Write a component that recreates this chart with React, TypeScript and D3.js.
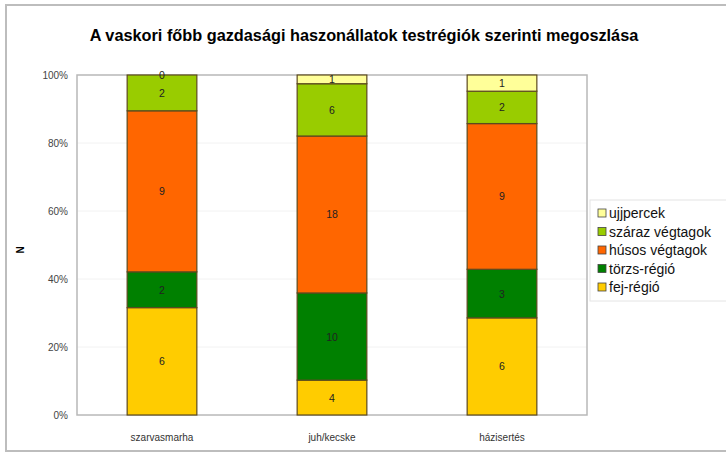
import React, { useEffect, useRef } from 'react';
import * as d3 from 'd3';

const categories = ['szarvasmarha', 'juh/kecske', 'házisertés'];
const seriesNames = ['fej-régió', 'törzs-régió', 'húsos végtagok', 'száraz végtagok', 'ujjpercek'];
const fejRegio = [6, 4, 6];
const torzsRegio = [2, 10, 3];
const husosVegtagok = [9, 18, 9];
const szarazVegtagok = [2, 6, 2];
const ujjpercek = [0, 1, 1];
const yTicks = [0, 0.2, 0.4, 0.6, 0.8, 1];
const colors = ['#FFCC00', '#008000', '#FF6600', '#99CC00', '#FFFF99'];

const App = () => {
    const ref = useRef<SVGSVGElement>(null);

    useEffect(() => {
        const svg = d3.select(ref.current);
        svg.selectAll('*').remove();

        const seriesValues = [fejRegio, torzsRegio, husosVegtagok, szarazVegtagok, ujjpercek];
        const rows = categories.map((c, i) => {
            const row: any = { cat: c };
            seriesNames.forEach((s, j) => { row[s] = seriesValues[j][i]; });
            return row;
        });
        const stacked = d3.stack().keys(seriesNames).offset(d3.stackOffsetExpand)(rows);

        const left = 77, right = 587, top = 75, bottom = 415;

        // outer frame
        svg.append('rect')
            .attr('x', 6).attr('y', 5).attr('width', 730).attr('height', 446)
            .attr('fill', '#fff').attr('stroke', '#bdbdbd').attr('stroke-width', 2);

        svg.append('text')
            .attr('x', 364).attr('y', 41)
            .attr('text-anchor', 'middle')
            .style('font-family', 'Liberation Sans, Arial, sans-serif')
            .style('font-size', '16.3px').style('font-weight', 'bold')
            .text('A vaskori főbb gazdasági haszonállatok testrégiók szerinti megoszlása');

        const x = d3.scaleBand().domain(categories).range([left, right]).paddingInner(0.59).paddingOuter(0.295);
        const y = d3.scaleLinear().domain([0, 1]).range([bottom, top]);

        // gridlines
        svg.append('g').selectAll('line').data(yTicks.slice(1, -1)).enter().append('line')
            .attr('x1', left).attr('x2', right)
            .attr('y1', d => y(d)).attr('y2', d => y(d))
            .attr('stroke', '#f2f2f2');

        // plot border
        svg.append('rect')
            .attr('x', left).attr('y', top).attr('width', right - left).attr('height', bottom - top)
            .attr('fill', 'none').attr('stroke', '#b8b8b8').attr('stroke-width', 1.5);

        const yAxis = svg.append('g')
            .attr('transform', `translate(${left},0)`)
            .call(d3.axisLeft(y).tickValues(yTicks).tickFormat(d3.format('.0%')).tickSize(0).tickPadding(9));
        yAxis.select('.domain').remove();
        yAxis.selectAll('text')
            .style('font-family', 'Liberation Sans, Arial, sans-serif')
            .style('font-size', '10px').attr('fill', '#444');

        const xAxis = svg.append('g')
            .attr('transform', `translate(0,${bottom})`)
            .call(d3.axisBottom(x).tickSize(0).tickPadding(19));
        xAxis.select('.domain').remove();
        xAxis.selectAll('text')
            .style('font-family', 'Liberation Sans, Arial, sans-serif')
            .style('font-size', '10px').attr('fill', '#333');

        svg.append('text')
            .attr('transform', 'translate(24,250) rotate(-90)')
            .attr('text-anchor', 'middle')
            .style('font-family', 'Liberation Sans, Arial, sans-serif')
            .style('font-size', '10px').style('font-weight', 'bold')
            .text('N');

        const layers = svg.append('g').selectAll('g').data(stacked).enter().append('g')
            .attr('fill', (d, i) => colors[i]);

        layers.selectAll('rect').data(d => d).enter().append('rect')
            .attr('x', (d: any) => x(d.data.cat)!)
            .attr('width', x.bandwidth())
            .attr('y', d => y(d[1]))
            .attr('height', d => y(d[0]) - y(d[1]))
            .attr('stroke', '#5c4a1e').attr('stroke-width', 1.2);

        layers.each(function (s: any) {
            d3.select(this).selectAll('text.lbl').data(s).enter().append('text')
                .attr('class', 'lbl')
                .attr('x', (d: any) => x(d.data.cat)! + x.bandwidth() / 2)
                .attr('y', (d: any) => (y(d[0]) + y(d[1])) / 2 + 4)
                .attr('text-anchor', 'middle')
                .attr('fill', '#222')
                .style('font-family', 'Liberation Sans, Arial, sans-serif')
                .style('font-size', '10.5px')
                .text((d: any) => d.data[s.key]);
        });

        // legend
        const lg = svg.append('g');
        lg.append('rect')
            .attr('x', 590).attr('y', 200).attr('width', 140).attr('height', 101)
            .attr('fill', '#fff').attr('stroke', '#e4e4e4');
        const items = seriesNames.map((s, i) => ({ s, c: colors[i] })).reverse();
        const li = lg.selectAll('g.it').data(items).enter().append('g')
            .attr('transform', (d, i) => `translate(598,${213 + i * 18.5})`);
        li.append('rect')
            .attr('x', 0).attr('y', -4).attr('width', 8).attr('height', 8)
            .attr('fill', d => d.c).attr('stroke', '#444').attr('stroke-width', 0.8);
        li.append('text')
            .attr('x', 11).attr('y', 5)
            .style('font-family', 'Liberation Sans, Arial, sans-serif')
            .style('font-size', '14px').attr('fill', '#111')
            .text(d => d.s);
    }, []);

    return (
        <svg ref={ref} width={726} height={461} style={{ position: 'absolute', left: 0, top: 0 }} />
    );
};

export default App;
